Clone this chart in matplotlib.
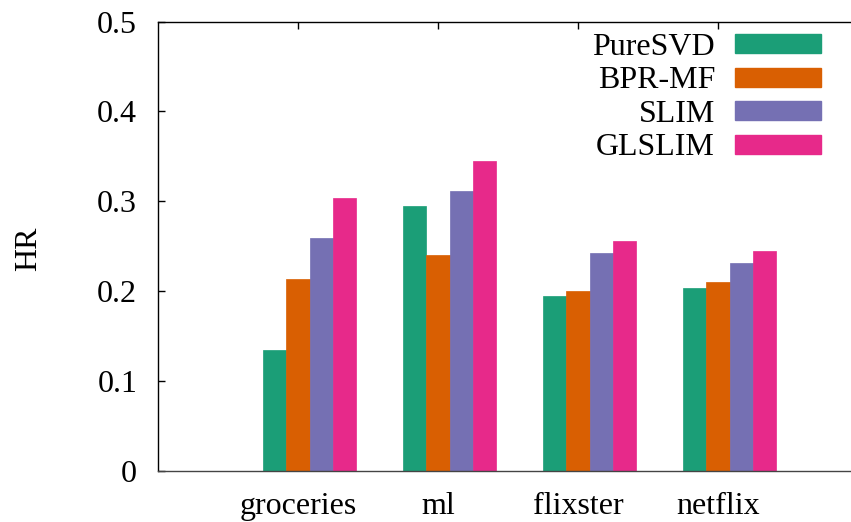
import matplotlib
matplotlib.use("Agg")
import matplotlib.pyplot as plt
import numpy as np
from matplotlib.patches import Patch

categories = ["groceries", "ml", "flixster", "netflix"]
methods = ["PureSVD", "BPR-MF", "SLIM", "GLSLIM"]
puresvd = [0.134, 0.295, 0.194, 0.204]
bprmf = [0.214, 0.240, 0.200, 0.210]
slim = [0.259, 0.312, 0.242, 0.231]
glslim = [0.304, 0.345, 0.256, 0.245]
colors = ["#1b9e77", "#d95f02", "#7570b3", "#e7298a"]
yticks = [0, 0.1, 0.2, 0.3, 0.4, 0.5]
ytick_labels = ["0", "0.1", "0.2", "0.3", "0.4", "0.5"]

plt.rcParams['font.family'] = ['Liberation Serif', 'DejaVu Serif']

W, H = 851, 522
fig = plt.figure(figsize=(W / 100, H / 100), dpi=100)
ax = fig.add_axes([158 / W, (H - 470.7) / H, 700 / W, 449 / H])

series = [puresvd, bprmf, slim, glslim]
x = np.arange(1, len(categories) + 1)
w = 1 / 6
for i, (vals, c, name) in enumerate(zip(series, colors, methods)):
    ax.bar(x + (i - 1) * w, vals, width=w, color=c, edgecolor=c, linewidth=0.5,
           align='center', label=name, zorder=2)

ax.set_xlim(0, 5)
ax.set_ylim(0, 0.5)
ax.set_xticks(x)
ax.set_xticklabels(categories, fontsize=23)
ax.set_yticks(yticks)
ax.set_yticklabels(ytick_labels, fontsize=23)
ax.tick_params(axis='y', direction='in', length=5, width=1, pad=15, left=True, right=False)
ax.tick_params(axis='x', direction='in', length=5, width=1, pad=15, top=True, bottom=False)
for s in ax.spines.values():
    s.set_linewidth(1)
    s.set_color('black')
ax.spines['bottom'].set_color('#444444')
ax.spines['right'].set_visible(False)

ax.set_ylabel("HR", fontsize=23)
ax.yaxis.set_label_coords(-0.164, 0.495)

handles = [Patch(facecolor=c, edgecolor=c) for c in colors]
leg = ax.legend(handles, methods, loc='upper right',
                bbox_to_anchor=(821 / W, (H - 33) / H), bbox_transform=fig.transFigure,
                frameon=False, fontsize=23, markerfirst=False,
                handlelength=2.7, handleheight=0.53, handletextpad=0.62,
                labelspacing=0.14, borderpad=0, borderaxespad=0)
for t in leg.get_texts():
    t.set_ha('right')

fig.savefig("out.png", dpi=100)
